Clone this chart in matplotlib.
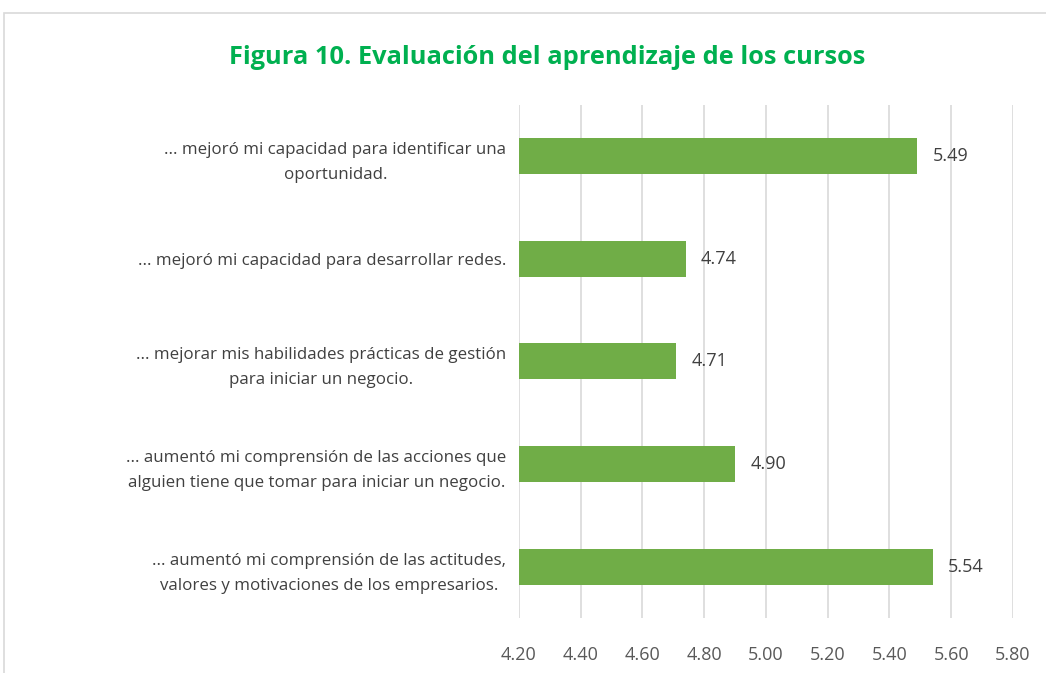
import matplotlib.pyplot as plt
from matplotlib.patches import Rectangle

# Data (top to bottom)
labels = [
    "... mejoró mi capacidad para identificar una\noportunidad.",
    "... mejoró mi capacidad para desarrollar redes.",
    "... mejorar mis habilidades prácticas de gestión\npara iniciar un negocio.",
    "... aumentó mi comprensión de las acciones que\nalguien tiene que tomar para iniciar un negocio.",
    "... aumentó mi comprensión de las actitudes,\nvalores y motivaciones de los empresarios.",
]
values = [5.49, 4.74, 4.71, 4.90, 5.54]
xticks = [4.20, 4.40, 4.60, 4.80, 5.00, 5.20, 5.40, 5.60, 5.80]

plt.rcParams['font.family'] = ['Open Sans', 'DejaVu Sans']

fig = plt.figure(figsize=(10.46, 6.73), dpi=100)
ax = fig.add_axes([0.496, 0.0817, 0.4725, 0.7625])

# light border round the chart area
fig.patches.append(Rectangle((4 / 1046, -0.02), 1.1, (673 - 13) / 673 + 0.02,
                             transform=fig.transFigure, fill=False,
                             edgecolor='#D9D9D9', linewidth=1.2))

pos = range(len(values))
ax.barh(pos, [v - 4.2 for v in values], left=4.2, height=0.35,
        color='#70AD47', zorder=3)
for i, v in zip(pos, values):
    ax.annotate(f"{v:.2f}", (v, i), xytext=(11, 0), textcoords='offset points',
                va='center', ha='left', fontsize=13, color='#404040', zorder=4)

ax.set_xlim(4.2, 5.8)
ax.set_ylim(len(values) - 0.5, -0.5)
ax.set_xticks(xticks)
ax.set_xticklabels([f"{t:.2f}" for t in xticks], fontsize=13, color='#595959')
ax.set_yticks(list(pos))
ax.set_yticklabels(labels, fontsize=12.2, color='#404040', linespacing=1.75)
for lab in ax.get_yticklabels():
    lab.set_multialignment('center')
ax.tick_params(axis='both', length=0)
ax.tick_params(axis='x', pad=20)
ax.tick_params(axis='y', pad=9)
ax.grid(axis='x', color='#D9D9D9', linewidth=1.2, zorder=0)
for s in ax.spines.values():
    s.set_visible(False)

fig.text(0.523, 0.915, "Figura 10. Evaluación del aprendizaje de los cursos",
         ha='center', va='center', fontsize=18.3, fontweight='bold',
         color='#00B050')

fig.savefig("out.png", dpi=100)
